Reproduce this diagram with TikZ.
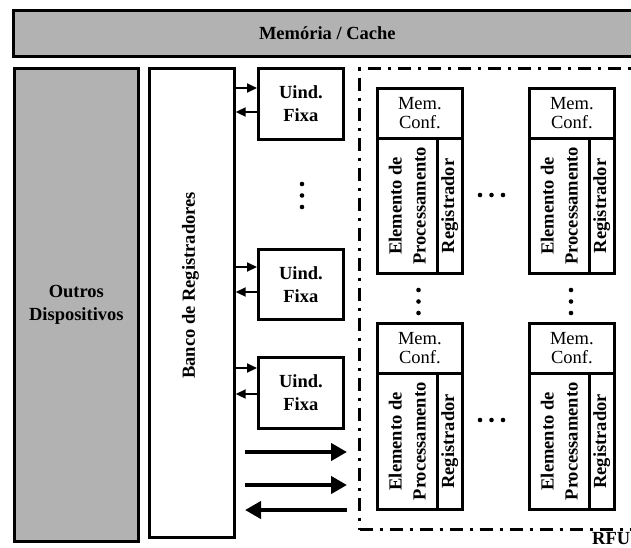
\documentclass[tikz,border=0pt]{standalone}
\usepackage{fontspec}
\setmainfont{Liberation Serif}
\usetikzlibrary{arrows.meta}
\definecolor{boxgray}{RGB}{178,178,178}
\begin{document}
\begin{tikzpicture}[x=1pt,y=-1pt,
  font=\fontsize{18.5}{23}\selectfont,
  blk/.style={draw, line width=2.7pt, inner sep=0pt, anchor=north west},
  graybox/.style={blk, fill=boxgray, font=\fontsize{18.5}{23}\selectfont\bfseries, align=center},
  uind/.style={blk, minimum width=85pt, font=\fontsize{18.5}{23}\selectfont\bfseries, align=center},
  memc/.style={blk, minimum width=85pt, minimum height=50pt, align=center, font=\fontsize{18.5}{19}\selectfont},
  peb/.style={blk, minimum width=60pt, minimum height=135pt},
  rgb/.style={blk, minimum width=25pt, minimum height=135pt},
  petext/.style={rotate=90, align=center, font=\fontsize{18.5}{24}\selectfont\bfseries, inner sep=0pt},
  rgtext/.style={rotate=90, font=\fontsize{18.5}{23}\selectfont\bfseries, inner sep=0pt},
  sarrow/.style={line width=2pt, -{Triangle[length=10pt,width=9pt]}},
  barrow/.style={line width=4pt, -{Triangle[length=16pt,width=17pt]}},
  dashframe/.style={draw, line width=3pt, dash pattern=on 13pt off 7pt on 3pt off 7pt, anchor=north west, inner sep=0pt},
  dot/.style={fill=black}
]
\useasboundingbox (0,0) rectangle (631,547);

% Memory / cache
\node[graybox, minimum width=628pt, minimum height=46pt] (mem) at (12,9) {Memória / Cache};

% Other devices
\node[graybox, minimum width=124pt, minimum height=473pt] (outros) at (13,67) {Outros\\Dispositivos};

% Register bank
\node[blk, minimum width=85pt, minimum height=469pt] (banco) at (148,67) {};
\node[rgtext] (bancot) at (190.5,285.5) {Banco de Registradores};

% Fixed units
\node[uind, minimum height=71pt] (u1) at (257,67) {Uind.\\Fixa};
\node[uind, minimum height=70pt] (u2) at (257,248) {Uind.\\Fixa};
\node[uind, minimum height=71pt] (u3) at (257,356) {Uind.\\Fixa};

\draw[sarrow] (banco.east |- 0,88) -- (u1.west |- 0,88);
\draw[sarrow] (u1.west |- 0,112) -- (banco.east |- 0,112);
\draw[sarrow] (banco.east |- 0,267) -- (u2.west |- 0,267);
\draw[sarrow] (u2.west |- 0,292) -- (banco.east |- 0,292);
\draw[sarrow] (banco.east |- 0,368) -- (u3.west |- 0,368);
\draw[sarrow] (u3.west |- 0,394) -- (banco.east |- 0,394);

\foreach \yy in {184,195.5,207} \fill[dot] (302,\yy) circle (2.3pt);

% RFU frame
\node[dashframe, minimum width=350pt, minimum height=461pt] (rfu) at (358,67) {};
\node[anchor=base west, font=\fontsize{18.5}{23}\selectfont\bfseries, inner sep=0pt] (rfut) at (592,544) {RFU};

% Big arrows
\coordinate (a1s) at (245,452); \coordinate (a1e) at (347,452);
\coordinate (a2s) at (245,485); \coordinate (a2e) at (347,485);
\coordinate (a3s) at (347,510); \coordinate (a3e) at (245,510);
\draw[barrow] (a1s) -- (a1e);
\draw[barrow] (a2s) -- (a2e);
\draw[barrow] (a3s) -- (a3e);

% Processing blocks, top row
\node[memc] (mc1) at (376,87) {Mem.\\Conf.};
\node[peb] (pe1) at (376,137) {};
\node[petext] (pet1) at (pe1.center) {Elemento de\\Processamento};
\node[rgb] (rg1) at (436,137) {};
\node[rgtext] (rgt1) at (rg1.center) {Registrador};

\node[memc] (mc2) at (528,87) {Mem.\\Conf.};
\node[peb] (pe2) at (528,137) {};
\node[petext] (pet2) at (pe2.center) {Elemento de\\Processamento};
\node[rgb] (rg2) at (588,137) {};
\node[rgtext] (rgt2) at (rg2.center) {Registrador};

% Processing blocks, bottom row
\node[memc] (mc3) at (376,322) {Mem.\\Conf.};
\node[peb, minimum height=136pt] (pe3) at (376,372) {};
\node[petext] (pet3) at (pe3.center) {Elemento de\\Processamento};
\node[rgb, minimum height=136pt] (rg3) at (436,372) {};
\node[rgtext] (rgt3) at (rg3.center) {Registrador};

\node[memc] (mc4) at (528,322) {Mem.\\Conf.};
\node[peb, minimum height=136pt] (pe4) at (528,372) {};
\node[petext] (pet4) at (pe4.center) {Elemento de\\Processamento};
\node[rgb, minimum height=136pt] (rg4) at (588,372) {};
\node[rgtext] (rgt4) at (rg4.center) {Registrador};

% Ellipses
\foreach \xx in {480,491.5,503} {
  \fill[dot] (\xx,195) circle (2.3pt);
  \fill[dot] (\xx,420) circle (2.3pt);
}
\foreach \yy in {290,301.5,313} {
  \fill[dot] (418.5,\yy) circle (2.3pt);
  \fill[dot] (571,\yy) circle (2.3pt);
}
\end{tikzpicture}
\end{document}
